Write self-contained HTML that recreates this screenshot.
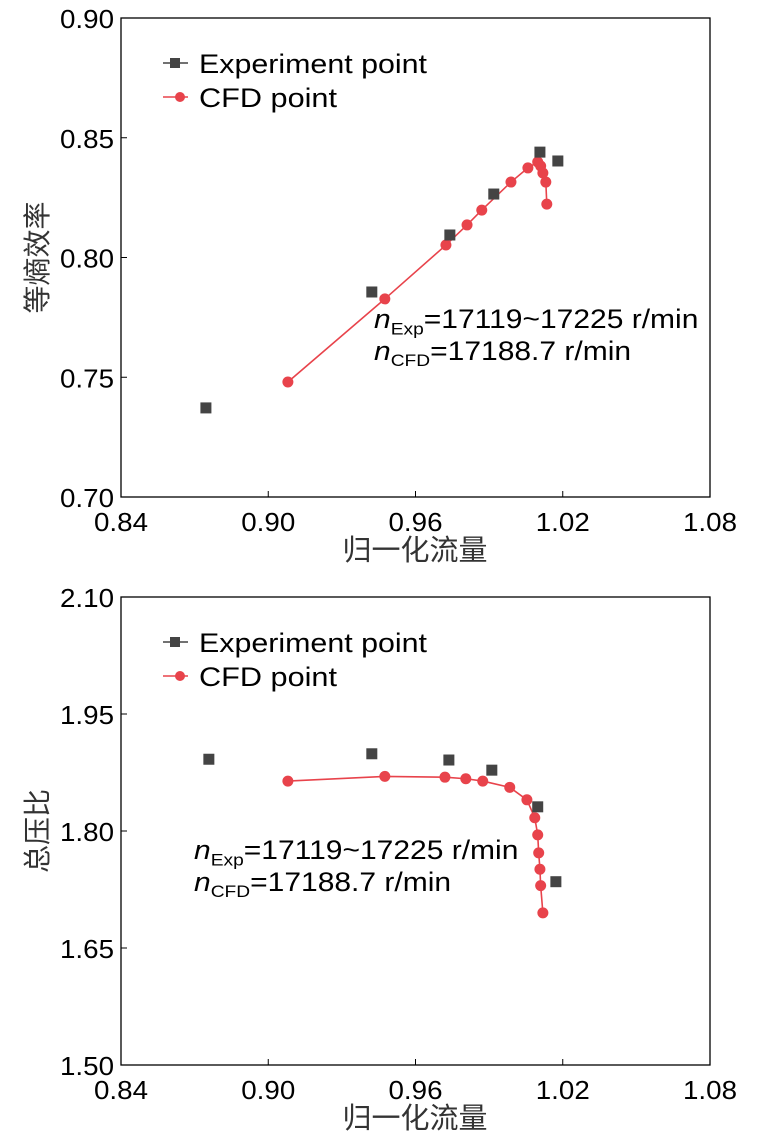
<!DOCTYPE html>
<html><head><meta charset="utf-8"><style>
body{margin:0;background:#fff;}
svg{display:block;font-family:"Liberation Sans","Noto Sans CJK SC",sans-serif;}
</style></head><body>
<svg id="s" width="760" height="1141"></svg>
<script>
const xTicks=[0.84,0.90,0.96,1.02,1.08];
const topYTicks=[0.70,0.75,0.80,0.85,0.90];
const botYTicks=[1.50,1.65,1.80,1.95,2.10];
const cfdX1=[0.908,0.9475,0.9724,0.981,0.987,0.9989,1.0058,1.0098,1.011,1.0119,1.0131,1.0135];
const cfdY1=[0.748,0.7827,0.8052,0.8136,0.8198,0.8315,0.8374,0.8399,0.8382,0.8353,0.8315,0.8223];
const expX1=[0.8746,0.9422,0.974,0.9919,1.0107,1.018];
const expY1=[0.7372,0.7856,0.8094,0.8265,0.844,0.8403];
const cfdX2=[0.908,0.9475,0.972,0.9805,0.9874,0.9984,1.0054,1.0086,1.0098,1.0102,1.0107,1.011,1.0119];
const cfdY2=[1.864,1.870,1.869,1.867,1.864,1.856,1.840,1.817,1.795,1.772,1.751,1.730,1.695];
const expX2=[0.8758,0.9422,0.9736,0.9911,1.0098,1.0172];
const expY2=[1.892,1.899,1.891,1.878,1.831,1.735];
const NS="http://www.w3.org/2000/svg";
const svg=document.getElementById('s');
function mk(tag,attrs,parent){const e=document.createElementNS(NS,tag);for(const k in attrs)e.setAttribute(k,attrs[k]);(parent||svg).appendChild(e);return e;}
function chart(p){
  const L=121,R=710,T=p.top,B=p.bottom;
  const g=mk('g',{});
  
  
  const x=v=>L+(v-xTicks[0])/(xTicks[xTicks.length-1]-xTicks[0])*(R-L);
  const yt=p.yTicks;
  const y=v=>B-(v-yt[0])/(yt[yt.length-1]-yt[0])*(B-T);
  const frame=mk('rect',{x:L,y:T,width:R-L,height:B-T,fill:'none',stroke:'#000','stroke-width':1.3},g);
  
  
  xTicks.forEach(v=>{
    mk('line',{x1:x(v),x2:x(v),y1:B,y2:B-6,stroke:'#000'},g);
    const t=mk('text',{x:x(v),y:B+34,'text-anchor':'middle','font-size':26,textLength:54,lengthAdjust:'spacingAndGlyphs'},g);t.textContent=v.toFixed(2);
    
    
  });
  yt.forEach(v=>{
    mk('line',{x1:L,x2:L+6,y1:y(v),y2:y(v),stroke:'#000'},g);
    const t=mk('text',{x:L-61,y:y(v)+10,'font-size':26,textLength:54,lengthAdjust:'spacingAndGlyphs'},g);t.textContent=v.toFixed(2);
    
    
  });
  const xt=mk('text',{x:415,y:B+63,'text-anchor':'middle','font-size':29,fill:'#333'},g);xt.textContent='归一化流量';
  
  
  const ytl=mk('text',{x:0,y:0,'text-anchor':'middle','font-size':28,fill:'#333',transform:`translate(47,${(T+B)/2}) rotate(-90)`},g);ytl.textContent=p.ytitle;
  
  
  const pts=p.cx.map((v,i)=>x(v)+','+y(p.cy[i])).join(' ');
  const line=mk('polyline',{points:pts,fill:'none',stroke:'#e8434b','stroke-width':1.6},g);
  
  
  p.cx.forEach((v,i)=>{
    const c=mk('circle',{cx:x(v),cy:y(p.cy[i]),r:5.5,fill:'#e8434b'},g);
    
    
  });
  p.ex.forEach((v,i)=>{
    const r=mk('rect',{x:x(v)-5.5,y:y(p.ey[i])-5.5,width:11,height:11,fill:'#444'},g);
    
    
  });
  const ly=T+45;
  mk('line',{x1:163,x2:188,y1:ly,y2:ly,stroke:'#444','stroke-width':1.5},g);
  mk('rect',{x:170,y:ly-5,width:10,height:10,fill:'#444'},g);
  const l1=mk('text',{x:199,y:ly+10,'font-size':27,textLength:228,lengthAdjust:'spacingAndGlyphs'},g);l1.textContent='Experiment point';
  
  
  mk('line',{x1:163,x2:188,y1:ly+34,y2:ly+34,stroke:'#e8434b','stroke-width':1.5},g);
  mk('circle',{cx:180,cy:ly+34,r:5,fill:'#e8434b'},g);
  const l2=mk('text',{x:199,y:ly+44,'font-size':27,textLength:138,lengthAdjust:'spacingAndGlyphs'},g);l2.textContent='CFD point';
  
  
  const ag=mk('g',{transform:`translate(${p.ax},${p.ay}) scale(1.2,1.06)`},g);
  const a1=mk('text',{x:0,y:0,'font-size':25},ag);
  a1.innerHTML='<tspan font-style="italic">n</tspan><tspan font-size="16" dy="6">Exp</tspan><tspan dy="-6">=17119~17225 r/min</tspan>';
  
  
  const a2=mk('text',{x:0,y:30,'font-size':25},ag);
  a2.innerHTML='<tspan font-style="italic">n</tspan><tspan font-size="16" dy="6">CFD</tspan><tspan dy="-6">=17188.7 r/min</tspan>';
  
  
}
chart({name:'efficiency-chart',top:18,bottom:497,yTicks:topYTicks,ytitle:'等熵效率',cx:cfdX1,cy:cfdY1,ex:expX1,ey:expY1,ax:374,ay:328});
chart({name:'pressure-ratio-chart',top:597,bottom:1065,yTicks:botYTicks,ytitle:'总压比',cx:cfdX2,cy:cfdY2,ex:expX2,ey:expY2,ax:194,ay:859});
</script>
</body></html>
